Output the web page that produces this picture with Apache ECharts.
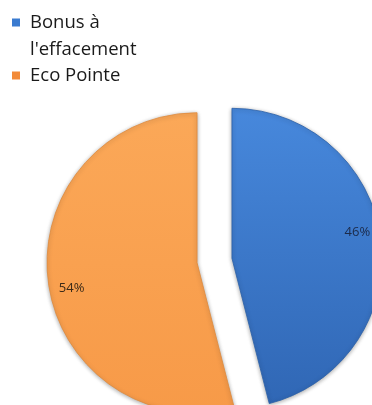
<!DOCTYPE html>
<html>
<head>
    <meta charset="utf-8">
    <title>Bonus à l'effacement / Eco Pointe</title>
    <script src="https://cdn.jsdelivr.net/npm/echarts@6/dist/echarts.min.js"></script>
    <style type="text/css">
        * {
            margin: 0;
            padding: 0;
        }

        body {
            background: #fff;
            overflow: hidden;
        }
    </style>
</head>
<body>
<div id="main" style="width: 372px;height: 405px;"></div>
<script type="text/javascript">
    var names = ["Bonus à l'effacement", 'Eco Pointe'];
    var values = [46, 54];

    var colorL = [
        new echarts.graphic.LinearGradient(0, 0, 0, 1, [
            {offset: 0, color: '#4788dc'},
            {offset: 1, color: '#3067b5'}
        ]),
        new echarts.graphic.LinearGradient(0, 0, 0, 1, [
            {offset: 0, color: '#fba858'},
            {offset: 1, color: '#f79a48'}
        ])
    ];
    var legendColor = ['#3a7bd0', '#f28a38'];
    var labelColor = ['#1c2b4a', '#3b2a18'];

    var pieData = [], labelData = [];
    for (var i = 0; i < names.length; i++) {
        pieData.push({
            name: names[i],
            value: values[i],
            selected: true,
            itemStyle: {color: colorL[i], borderColor: i == 0 ? '#2a5fa8' : '#e08a3c'}
        });
        labelData.push({
            name: names[i],
            value: values[i],
            selected: true,
            label: {color: labelColor[i]}
        });
    }

    var myChart = echarts.init(document.getElementById('main'));
    var option = {
        animation: false,
        legend: {
            orient: 'vertical',
            left: 12,
            top: -18,
            padding: 0,
            itemWidth: 8,
            itemHeight: 8,
            itemGap: -1,
            icon: 'rect',
            selectedMode: false,
            // 第一项换行，前面加空行让图标对齐第一行
            formatter: function (name) {
                if (name == names[0]) {
                    return '\n' + name.replace(' l\'', '\nl\'');
                }
                return name;
            },
            itemStyle: {borderWidth: 0},
            textStyle: {
                fontFamily: 'Open Sans',
                fontSize: 18.5,
                lineHeight: 27,
                color: '#1a1a1a',
                padding: [0, 0, 0, 5]
            },
            data: [
                {name: names[0], itemStyle: {color: legendColor[0]}},
                {name: names[1], itemStyle: {color: legendColor[1]}}
            ]
        },
        series: [{
            type: 'pie',
            center: [214.5, 260.5],
            radius: 150,
            startAngle: 90,
            selectedMode: 'multiple',
            selectedOffset: 17.6,
            label: {show: false},
            labelLine: {show: false},
            emphasis: {disabled: true},
            itemStyle: {
                borderWidth: 0.8,
                shadowBlur: 4,
                shadowOffsetY: 1,
                shadowColor: 'rgba(0,0,0,0.35)'
            },
            data: pieData
        }, {
            type: 'pie',
            center: [214.5, 260.5],
            radius: [100, 150],
            startAngle: 94,
            selectedMode: 'multiple',
            selectedOffset: 17.6,
            silent: true,
            emphasis: {disabled: true},
            itemStyle: {color: 'rgba(0,0,0,0)'},
            label: {
                show: true,
                position: 'inside',
                formatter: '{d}%',
                fontFamily: 'Open Sans',
                fontSize: 13
            },
            labelLine: {show: false},
            data: labelData
        }]
    };
    myChart.setOption(option);
</script>
</body>
</html>
